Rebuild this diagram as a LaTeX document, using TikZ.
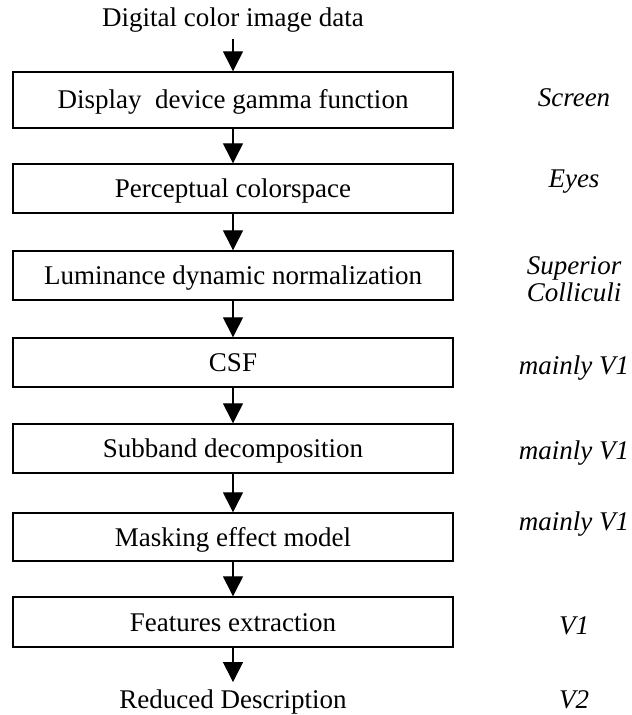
\documentclass[tikz,border=0pt]{standalone}
\usepackage{fontspec}
\setmainfont{Liberation Serif}
\usetikzlibrary{arrows.meta}
\newcommand{\fsz}{\fontsize{27bp}{26.5bp}\selectfont}
\begin{document}
\begin{tikzpicture}[x=1bp,y=-1bp,
  stepbox/.style={draw, line width=1.4bp, minimum width=440bp, inner sep=0pt,
    text height=18bp, text depth=0pt, font=\fsz},
  arr/.style={line width=1.3bp, -{Triangle[length=20bp,width=20bp]}},
  lbl/.style={font=\fsz\itshape, anchor=base, inner sep=0pt},
  endtext/.style={font=\fsz, anchor=base},
]
\useasboundingbox (0,0) rectangle (632,715);

\node[endtext, inner sep=6bp] (in) at (233,27) {Digital color image data};
\node[stepbox, minimum height=56bp] (b1) at (233,100) {Display\ \ device gamma function};
\node[stepbox, minimum height=49bp] (b2) at (233,188.5) {Perceptual colorspace};
\node[stepbox, minimum height=49bp] (b3) at (233,275.5) {Luminance dynamic normalization};
\node[stepbox, minimum height=49bp] (b4) at (233,362.5) {CSF};
\node[stepbox, minimum height=49bp] (b5) at (233,448.5) {Subband decomposition};
\node[stepbox, minimum height=48bp] (b6) at (233,537) {Masking effect model};
\node[stepbox, minimum height=50bp] (b7) at (233,622) {Features extraction};
\node[endtext, inner sep=7bp] (out) at (233,708) {Reduced Description};

\draw[arr] (in) -- (b1);
\draw[arr] (b1) -- (b2);
\draw[arr] (b2) -- (b3);
\draw[arr] (b3) -- (b4);
\draw[arr] (b4) -- (b5);
\draw[arr] (b5) -- (b6);
\draw[arr] (b6) -- (b7);
\draw[arr] (b7) -- (out);

\node[lbl] (l1) at (574,107) {Screen};
\node[lbl] (l2) at (574,187) {Eyes};
\node[font=\fsz\itshape, align=center, inner sep=0pt] (l3) at (574,279) {Superior\\Colliculi};
\node[lbl] (l4) at (574,374) {mainly V1};
\node[lbl] (l5) at (574,459) {mainly V1};
\node[lbl] (l6) at (574,530) {mainly V1};
\node[lbl] (l7) at (574,634) {V1};
\node[lbl] (l8) at (574,708) {V2};
\end{tikzpicture}
\end{document}
